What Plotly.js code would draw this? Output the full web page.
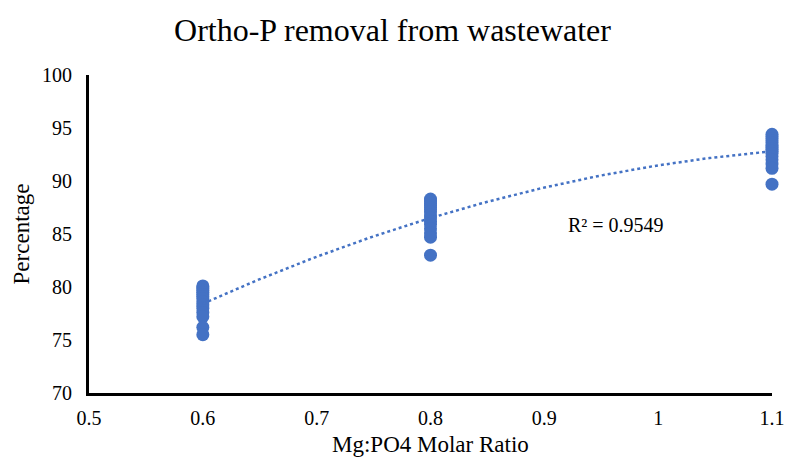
<!DOCTYPE html>
<html><head><meta charset="utf-8">
<script src="https://cdn.plot.ly/plotly-3.0.1.min.js"></script>
<style>html,body{margin:0;padding:0;background:#fff}#chart{width:785px;height:458px}</style>
</head><body><div id="chart"></div>
<script>
// Data
const ratio06 = [80.1, 79.9, 79.7, 79.5, 79.3, 79.1, 78.9, 78.6, 78.3, 78.0, 77.6, 77.2, 76.2, 75.5];
const ratio08 = [88.3, 88.1, 87.9, 87.7, 87.5, 87.3, 87.1, 86.8, 86.5, 86.2, 85.9, 85.5, 85.1, 84.7, 83.0];
const ratio11 = [94.4, 94.2, 94.0, 93.8, 93.6, 93.4, 93.2, 93.0, 92.8, 92.6, 92.3, 92.0, 91.6, 91.2, 89.7];
const molarRatios = [0.6, 0.8, 1.1];
const rSquaredLabel = "R² = 0.9549";
const xTitle = "Mg:PO4 Molar Ratio";

const xs = [], ys = [];
[ratio06, ratio08, ratio11].forEach((arr, i) => arr.forEach(v => { xs.push(molarRatios[i]); ys.push(v); }));

// Quadratic least-squares trendline (as the spreadsheet trendline does)
function polyfit2(x, y) {
  let S = [0,0,0,0,0], T = [0,0,0];
  for (let i = 0; i < x.length; i++) {
    let p = 1;
    for (let k = 0; k < 5; k++) { S[k] += p; if (k < 3) T[k] += p * y[i]; p *= x[i]; }
  }
  const A = [[S[0],S[1],S[2],T[0]],[S[1],S[2],S[3],T[1]],[S[2],S[3],S[4],T[2]]];
  for (let c = 0; c < 3; c++) {
    for (let r = c + 1; r < 3; r++) {
      const f = A[r][c] / A[c][c];
      for (let k = c; k < 4; k++) A[r][k] -= f * A[c][k];
    }
  }
  const b = [0,0,0];
  for (let r = 2; r >= 0; r--) {
    let s = A[r][3];
    for (let k = r + 1; k < 3; k++) s -= A[r][k] * b[k];
    b[r] = s / A[r][r];
  }
  return b;
}
const coef = polyfit2(xs, ys);
const tx = [], ty = [];
const x0 = molarRatios[0], x1 = molarRatios[molarRatios.length - 1];
for (let i = 0; i <= 100; i++) {
  const x = x0 + (x1 - x0) * i / 100;
  tx.push(x); ty.push(coef[0] + coef[1] * x + coef[2] * x * x);
}

const font = "Liberation Serif, Times New Roman, serif";
const traces = [
  { x: xs, y: ys, type: "scatter", mode: "markers", cliponaxis: false,
    marker: { color: "#4472C4", size: 13 }, hoverinfo: "x+y" },
  { x: tx, y: ty, type: "scatter", mode: "lines", cliponaxis: false,
    line: { color: "#4472C4", width: 2.5, dash: "dot" }, hoverinfo: "skip" }
];
const layout = {
  width: 785, height: 458,
  margin: { l: 89, r: 13, t: 75, b: 65 },
  paper_bgcolor: "#fff", plot_bgcolor: "#fff",
  showlegend: false,
  font: { family: font, color: "#000", size: 20 },
  title: { text: "Ortho-P removal from wastewater", font: { family: font, size: 32, color: "#000" },
           x: 0.5, xanchor: "center", y: 0.935, yanchor: "middle" },
  xaxis: { range: [0.5, 1.1], dtick: 0.1, tick0: 0.5, showgrid: false, zeroline: false,
           showline: true, linecolor: "#000", linewidth: 3,
           ticks: "outside", ticklen: 5, tickcolor: "rgba(0,0,0,0)",
           tickfont: { family: font, size: 20 } },
  yaxis: { range: [70, 100], dtick: 5, showgrid: false, zeroline: false,
           showline: true, linecolor: "#000", linewidth: 3,
           ticks: "outside", ticklen: 10, tickcolor: "rgba(0,0,0,0)",
           tickfont: { family: font, size: 20 },
           title: { text: "Percentage", font: { family: font, size: 23 }, standoff: 6 } },
  annotations: [
    { x: 0.963, y: 85.85, xref: "x", yref: "y", text: rSquaredLabel, showarrow: false,
      font: { family: font, size: 20, color: "#000" } },
    { x: 0.5, y: 0, xref: "paper", yref: "paper", yanchor: "middle", yshift: -51,
      text: xTitle, showarrow: false, font: { family: font, size: 23, color: "#000" } }
  ]
};
Plotly.newPlot("chart", traces, layout, { displayModeBar: false, staticPlot: true });
</script></body></html>
